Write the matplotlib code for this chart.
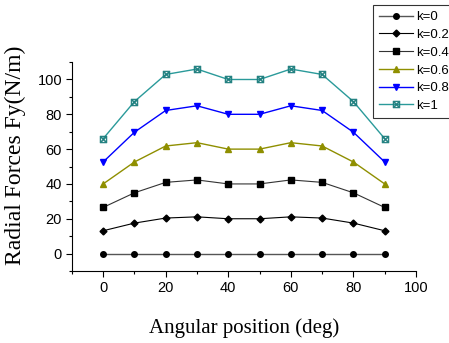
import numpy as np
import matplotlib.pyplot as plt
from matplotlib.ticker import MultipleLocator

angle = [0, 10, 20, 30, 40, 50, 60, 70, 80, 90]
fy_k0 = [0, 0, 0, 0, 0, 0, 0, 0, 0, 0]
fy_k02 = [13.1, 17.5, 20.4, 21.1, 20, 20, 21.1, 20.4, 17.5, 13.1]
fy_k04 = [26.5, 34.9, 40.9, 42.3, 40, 40, 42.3, 40.9, 34.9, 26.5]
fy_k06 = [40, 52.6, 61.8, 63.7, 60, 60, 63.7, 61.8, 52.6, 40]
fy_k08 = [52.6, 69.7, 82.2, 84.9, 80, 80, 84.9, 82.2, 69.7, 52.6]
fy_k1 = [66, 87.3, 102.9, 106, 100, 100, 106, 102.9, 87.3, 66]
labels = ['k=0', 'k=0.2', 'k=0.4', 'k=0.6', 'k=0.8', 'k=1']

fig = plt.figure(figsize=(4.49, 3.43), dpi=100)
ax = fig.add_axes([0.160, 0.21, 0.7665, 0.609])

ax.plot(angle, fy_k0, color='#555555', lw=1, marker='o', ms=4, mfc='k', mec='k', label=labels[0])
ax.plot(angle, fy_k02, color='k', lw=0.8, marker='D', ms=3.5, mfc='k', mec='k', label=labels[1])
ax.plot(angle, fy_k04, color='#333333', lw=0.8, marker='s', ms=4, mfc='k', mec='k', label=labels[2])
ax.plot(angle, fy_k06, color='#8f8f00', lw=1, marker='^', ms=5, mfc='#8f8f00', mec='#8f8f00', label=labels[3])
ax.plot(angle, fy_k08, color='#0000ff', lw=1, marker='v', ms=5, mfc='#0000ff', mec='#0000ff', label=labels[4])
ax.plot(angle, fy_k1, color='#2a9a9a', lw=1, marker=r'$\boxtimes$', ms=5, mfc='#1f7f7f', mec='#1f7f7f', mew=0.4, label=labels[5])

ax.set_xlim(-10, 100)
ax.set_ylim(-10, 110)
ax.xaxis.set_minor_locator(MultipleLocator(10))
ax.yaxis.set_minor_locator(MultipleLocator(10))
ax.set_xticks([0, 20, 40, 60, 80, 100])
ax.set_yticks([0, 20, 40, 60, 80, 100])
for s in ['top', 'right']:
    ax.spines[s].set_visible(False)
ax.tick_params(which='both', direction='out', width=0.8)
ax.tick_params(which='major', length=4, labelsize=10.5, pad=3)
ax.tick_params(which='minor', length=2.5)
for t in ax.get_xticklabels() + ax.get_yticklabels():
    t.set_fontfamily('Liberation Sans')

ax.set_xlabel('Angular position (deg)', fontfamily='Liberation Serif', fontsize=15, labelpad=17)
ax.set_ylabel('Radial Forces Fy(N/m)', fontfamily='Liberation Serif', fontsize=17)
ax.yaxis.set_label_coords(-0.134, 0.555)

leg = fig.legend(loc='upper left', bbox_to_anchor=(373 / 449, 1 - 5 / 343), frameon=True, fancybox=False,
                 edgecolor='k', prop={'family': 'Liberation Sans', 'size': 9.5}, handlelength=2.6,
                 handletextpad=0.2, labelspacing=0.42, borderpad=0.45, borderaxespad=0)
leg.get_frame().set_linewidth(0.8)

fig.savefig('out.png', dpi=100)
